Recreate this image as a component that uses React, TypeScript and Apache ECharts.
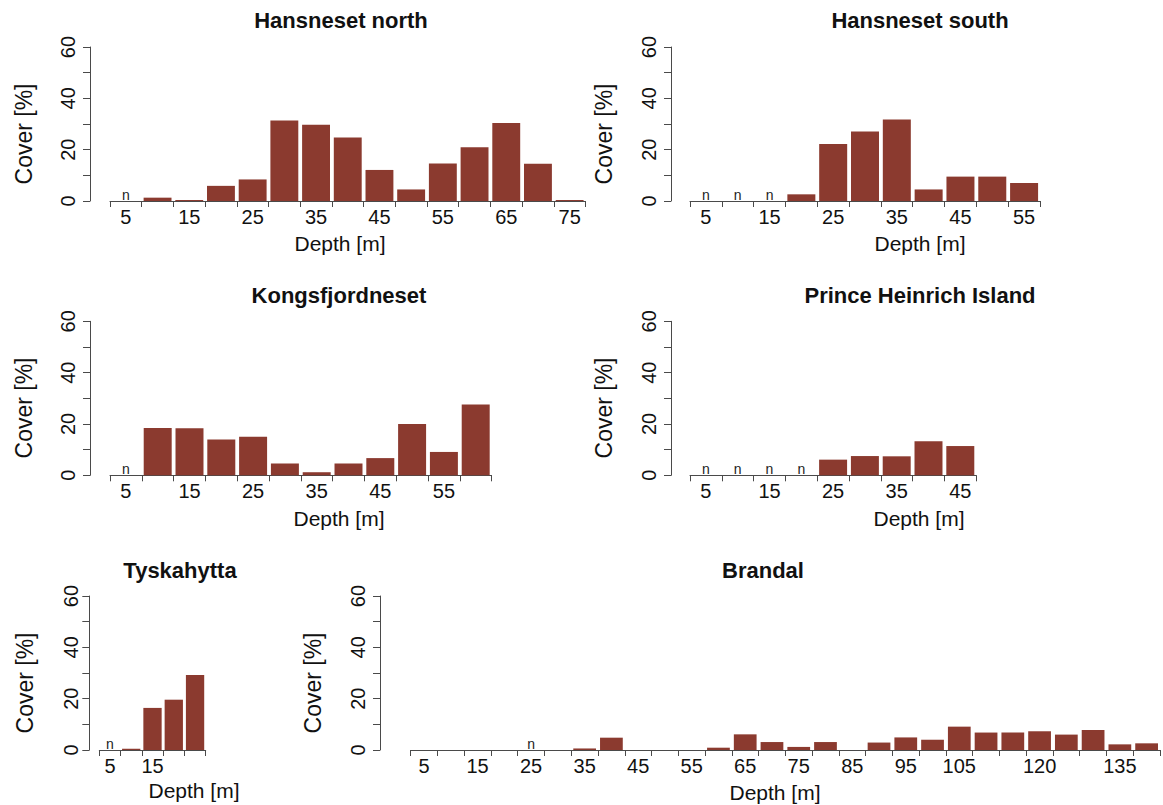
import React, { useEffect, useRef } from "react";
import * as echarts from "echarts";

// Depth bins (m) and cover (%) per site
const northDepths = [5, 10, 15, 20, 25, 30, 35, 40, 45, 50, 55, 60, 65, 70, 75];
const northCover = [0, 1.3, 0.4, 5.9, 8.4, 31.4, 29.7, 24.7, 12.1, 4.5, 14.6, 20.9, 30.4, 14.5, 0.4];
const northNoData = [5];
const northLabels = [5, 15, 25, 35, 45, 55, 65, 75];

const southDepths = [5, 10, 15, 20, 25, 30, 35, 40, 45, 50, 55];
const southCover = [0, 0, 0, 2.6, 22.2, 27.1, 31.8, 4.5, 9.5, 9.5, 7.0];
const southNoData = [5, 10, 15];
const southLabels = [5, 15, 25, 35, 45, 55];

const kongsDepths = [5, 10, 15, 20, 25, 30, 35, 40, 45, 50, 55, 60];
const kongsCover = [0, 18.4, 18.3, 13.9, 15.0, 4.6, 1.2, 4.6, 6.7, 20.0, 9.1, 27.6];
const kongsNoData = [5];
const kongsLabels = [5, 15, 25, 35, 45, 55];

const princeDepths = [5, 10, 15, 20, 25, 30, 35, 40, 45];
const princeCover = [0, 0, 0, 0, 6.1, 7.5, 7.4, 13.3, 11.4];
const princeNoData = [5, 10, 15, 20];
const princeLabels = [5, 15, 25, 35, 45];

const tyskDepths = [5, 10, 15, 20, 25];
const tyskCover = [0, 0.5, 16.4, 19.6, 29.2];
const tyskNoData = [5];
const tyskLabels = [5, 15];

const brandalDepths = [
  5, 10, 15, 20, 25, 30, 35, 40, 45, 50, 55, 60, 65, 70,
  75, 80, 85, 90, 95, 100, 105, 110, 115, 120, 125, 130, 135, 140,
];
const brandalCover = [
  0, 0, 0, 0, 0, 0, 0.6, 4.8, 0, 0, 0, 0.9, 6.1, 3.1,
  1.2, 3.1, 0, 2.9, 4.9, 4.0, 9.1, 6.8, 6.8, 7.3, 6.0, 7.8, 2.2, 2.6,
];
const brandalNoData = [25];
const brandalLabels = [5, 15, 25, 35, 45, 55, 65, 75, 85, 95, 105, 120, 135];

const yTicks = [0, 20, 40, 60];

const sites = [
  { name: "Hansneset north", depths: northDepths, cover: northCover, noData: northNoData, labels: northLabels },
  { name: "Hansneset south", depths: southDepths, cover: southCover, noData: southNoData, labels: southLabels },
  { name: "Kongsfjordneset", depths: kongsDepths, cover: kongsCover, noData: kongsNoData, labels: kongsLabels },
  { name: "Prince Heinrich Island", depths: princeDepths, cover: princeCover, noData: princeNoData, labels: princeLabels },
  { name: "Tyskahytta", depths: tyskDepths, cover: tyskCover, noData: tyskNoData, labels: tyskLabels },
  { name: "Brandal", depths: brandalDepths, cover: brandalCover, noData: brandalNoData, labels: brandalLabels },
];

// Panel geometry (pixels)
const layout = [
  { left: 110, width: 475.5, top: 47, yOff: 20, lblMargin: 12, gap: "12%", title: [341, 20], ytitle: [24, 134], xtitle: [340, 243] },
  { left: 690, width: 350, top: 47, yOff: 19, lblMargin: 12, gap: "12%", title: [920, 20], ytitle: [604, 134], xtitle: [920, 243] },
  { left: 110, width: 381.6, top: 321.3, yOff: 20, lblMargin: 12, gap: "12%", title: [339, 295], ytitle: [24, 408], xtitle: [339, 518] },
  { left: 690, width: 286.2, top: 321.3, yOff: 19, lblMargin: 12, gap: "12%", title: [920, 295], ytitle: [604, 408], xtitle: [919, 518] },
  { left: 99.3, width: 106.4, top: 596, yOff: 10, lblMargin: 8, gap: "14%", title: [180, 570], ytitle: [25, 683], xtitle: [194, 790] },
  { left: 410.7, width: 749.3, top: 596, yOff: 30.7, lblMargin: 12, gap: "15%", title: [763, 570], ytitle: [313, 683], xtitle: [775, 792] },
];
const PLOT_H = 154;

const FONT = "'Liberation Sans', Arial, Helvetica, sans-serif";
const BAR = "#8b3a2f";
const AXIS = "#4a4a4a";
const INK = "#111";

export default function App() {
  const ref = useRef<HTMLDivElement>(null);

  useEffect(() => {
    if (!ref.current) return;
    const chart = echarts.init(ref.current, undefined, { renderer: "svg" });

    const grid = layout.map((g) => ({
      left: g.left,
      top: g.top,
      width: g.width,
      height: PLOT_H,
      containLabel: false,
    }));

    const xAxis = sites.map((s, i) => ({
      type: "category",
      gridIndex: i,
      data: s.depths.map(String),
      axisLine: { show: true, lineStyle: { color: AXIS, width: 1 } },
      axisTick: { show: true, interval: 0, length: 6, alignWithLabel: false, lineStyle: { color: AXIS } },
      axisLabel: {
        interval: (_idx: number, v: string) => s.labels.includes(Number(v)),
        fontSize: 20,
        fontFamily: FONT,
        color: INK,
        margin: 6,
      },
      splitLine: { show: false },
    }));

    const yAxis = sites.map((_s, i) => ({
      type: "value",
      gridIndex: i,
      min: 0,
      max: 60,
      interval: 10,
      offset: layout[i].yOff,
      axisLine: { show: true, lineStyle: { color: AXIS, width: 1 } },
      axisTick: { show: true, length: 7, lineStyle: { color: AXIS } },
      axisLabel: {
        rotate: 90,
        fontSize: 20,
        fontFamily: FONT,
        color: INK,
        margin: layout[i].lblMargin,
        formatter: (v: number) => (yTicks.includes(v) ? String(v) : ""),
      },
      splitLine: { show: false },
    }));

    // bins without data are marked with a small "n" above the baseline
    const series = sites.map((s, i) => ({
      type: "bar",
      name: s.name,
      xAxisIndex: i,
      yAxisIndex: i,
      barCategoryGap: layout[i].gap,
      itemStyle: { color: BAR },
      data: s.cover.map((v, j) =>
        s.noData.includes(s.depths[j])
          ? {
              value: v,
              label: {
                show: true,
                position: "top",
                distance: -1,
                formatter: "n",
                fontSize: 14,
                fontFamily: FONT,
                color: "#222",
              },
            }
          : v
      ),
    }));

    const graphic: any[] = [];
    sites.forEach((s, i) => {
      const g = layout[i];
      graphic.push({
        type: "text",
        x: g.title[0],
        y: g.title[1],
        style: {
          text: s.name,
          fontSize: 22,
          fontWeight: "bold",
          fontFamily: FONT,
          fill: INK,
          align: "center",
          verticalAlign: "middle",
        },
      });
      graphic.push({
        type: "text",
        x: g.ytitle[0],
        y: g.ytitle[1],
        rotation: Math.PI / 2,
        style: {
          text: "Cover [%]",
          fontSize: 23,
          fontFamily: FONT,
          fill: INK,
          align: "center",
          verticalAlign: "middle",
        },
      });
      graphic.push({
        type: "text",
        x: g.xtitle[0],
        y: g.xtitle[1],
        style: {
          text: "Depth [m]",
          fontSize: 21,
          fontFamily: FONT,
          fill: INK,
          align: "center",
          verticalAlign: "middle",
        },
      });
    });

    chart.setOption({
      animation: false,
      backgroundColor: "#ffffff",
      grid,
      xAxis,
      yAxis,
      series,
      graphic,
    });

    return () => chart.dispose();
  }, []);

  return (
    <div
      ref={ref}
      style={{ position: "absolute", left: 0, top: 0, width: 1163, height: 805, background: "#fff" }}
    />
  );
}
